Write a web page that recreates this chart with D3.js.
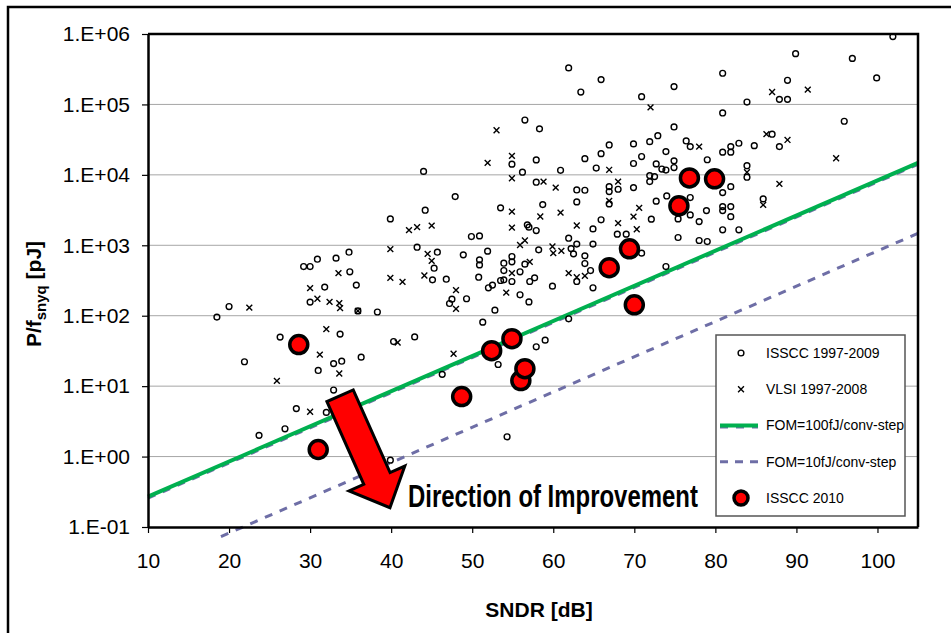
<!DOCTYPE html>
<html>
<head>
<meta charset="utf-8">
<script src="https://cdn.jsdelivr.net/npm/d3@7"></script>
<style>
body { margin: 0; background: #fff; }
svg { display: block; }
text { font-family: Arial, "Liberation Sans", sans-serif; }
</style>
</head>
<body>
<svg width="951" height="633"></svg>
<script>
// ISSCC 1997-2009 [SNDR dB, P/fsnyq pJ]
var isscc = [
  [61.9,3.3e5],[65.9,2.25e5],[63.4,1.5e5],[56.5,6.0e4],[58.3,4.5e4],[66.9,2.66e4],[65.9,2.0e4],[63.9,1.7e4],
  [54.9,1.42e4],[57.9,1.63e4],[65.3,1.25e4],[56.2,1.09e4],[60.9,1.16e4],[44.0,1.12e4],[57.9,7870],[62.9,6110],
  [63.9,6050],[66.9,6800],[66.9,5780],[68.0,6250],[66.9,3870],[62.9,4130],[47.9,4910],[44.2,3150],[53.5,3400],
  [58.7,3780],[39.9,2370],[65.9,2300],
  [101.9,9.2e5],[89.9,5.26e5],[96.9,4.5e5],[99.9,2.38e5],[80.9,2.77e5],[88.9,2.2e5],[74.9,1.79e5],[70.9,1.29e5],
  [87.9,1.18e5],[88.9,1.18e5],[83.9,1.08e5],[80.9,7.57e4],[95.9,5.77e4],[74.9,4.79e4],[87.0,3.78e4],[87.9,2.52e4],
  [84.8,2.6e4],[82.9,2.81e4],[81.9,2.52e4],[80.9,2.1e4],[81.9,2.1e4],[72.9,3.6e4],[71.9,2.96e4],[69.9,2.75e4],
  [76.4,3.03e4],[76.9,2.52e4],[73.9,2.14e4],[70.9,1.82e4],[69.9,1.45e4],[79.0,1.64e4],[74.9,1.58e4],[72.7,1.43e4],
  [73.4,1.21e4],[73.9,1.17e4],[74.9,1.27e4],[71.9,9760],[71.9,8020],[72.5,9440],[69.9,6590],[83.9,1.35e4],
  [83.9,9250],[80.9,5600],[81.9,6800],[74.0,5020],[72.7,4230],[76.9,4760],[80.9,3540],[81.9,3540],[80.9,3110],
  [78.9,3110],[85.9,4560],[72.1,2350],[81.9,2550],[76.9,2700],
  [69.0,1440],[75.4,2370],[78.0,2170],[80.9,1660],[82.9,1660],[75.4,1290],[78.0,1170],[79.0,1130],[73.9,499],[70.9,773],
  [56.8,1950],[57.0,1810],[57.9,1620],[64.9,1710],[67.9,1440],[49.9,1330],[50.9,1360],[61.9,1260],[62.9,1040],
  [64.9,1040],[58.2,861],[62.2,898],[62.5,755],[63.9,708],[63.9,550],[43.2,940],[45.7,798],[45.3,473],[48.9,731],
  [51.9,825],[50.9,621],[50.9,527],[53.9,557],[54.9,692],[54.9,582],[53.9,438],[54.9,306],[53.9,323],[53.5,316],
  [55.9,420],[57.1,306],[57.7,345],[56.5,540],[55.9,198],[57.0,157],[52.8,120],[51.3,81],[50.8,352],[52.0,249],
  [52.5,272],[59.9,263],[62.9,306],[64.6,438],[64.9,249],[47.5,172],[47.2,149],[49.3,174],[46.8,330],[45.1,323],
  [35.7,272],[34.9,420],[34.8,798],[33.2,657],[30.9,635],[29.2,499],[30.0,499],[31.8,255],[30.0,156],[35.9,117],
  [38.3,113],[33.7,54.8],[40.3,43],[42.9,50],[32.9,20.9],[33.9,22.6],[36.3,25.8],[31.0,16.7],[32.9,8.8],[46.3,14.7],
  [53.2,20.3],[61.9,90.4],[57.9,36.2],[59.0,45],[32.0,4.24],
  [18.5,95.5],[20.0,135],[26.3,49.7],[21.9,22.2],[28.3,4.8],
  [23.7,2.0],[26.9,2.48],[54.3,1.91],[39.9,0.89]
];

// VLSI 1997-2008
var vlsi = [
  [53.0,4.3e4],[54.9,1.86e4],[51.9,1.48e4],[66.9,1.18e4],[54.9,8960],[58.8,8020],[68.0,8020],[60.3,6590],
  [66.9,4270],[54.9,3000],[60.9,2910],[58.4,2560],
  [72.0,9.1e4],[87.0,1.5e5],[91.4,1.62e5],[86.3,3.78e4],[88.9,3.13e4],[78.0,2.52e4],[87.9,7430],[83.9,1.09e4],
  [94.9,1.72e4],[85.9,3740],[70.6,3400],[69.9,2550],[70.3,1690],
  [42.2,1640],[43.2,1810],[45.0,1900],[54.9,1780],[62.9,1910],[68.0,2060],[55.9,1010],[56.5,1170],[59.9,960],
  [61.0,834],[60.0,773],[39.9,881],[44.5,755],[45.0,601],[54.9,402],[57.1,582],[54.2,213],[61.9,402],[62.9,352],
  [63.9,368],[48.0,231],[48.0,125],[44.1,372],[41.4,303],[39.9,345],[33.5,402],[30.0,246],[30.9,174],[32.4,157],
  [33.6,151],[33.7,128],[35.9,117],[32.0,64.5],[40.8,41.7],[31.2,28],[33.6,15.1],[47.7,28.8],[30.0,4.33],
  [22.5,130],[25.9,11.9]
];

// ISSCC 2010
var isscc2010 = [
  [28.6,38.9],[31.0,1.26],[48.7,7.1],[52.4,31.9],[54.9,47.2],[56.0,12.0],[56.5,17.7],
  [66.9,480],[69.4,891],[70.0,143],[75.5,3630],[76.8,9060],[79.9,8770]
];

// FOM lines (end points)
var fom100 = [[10,0.27],[105,14800]];
var fom10 = [[19,0.073],[105,1480]];

var xTicks = [10,20,30,40,50,60,70,80,90,100];
var yTicks = [1e-1,1e0,1e1,1e2,1e3,1e4,1e5,1e6];
var legendLabels = ['ISSCC 1997-2009','VLSI 1997-2008','FOM=100fJ/conv-step','FOM=10fJ/conv-step','ISSCC 2010'];

var svg = d3.select('svg');
var green = '#00b050', purple = '#6e6ea6';

var xScale = d3.scaleLinear().domain([10,105]).range([148,918]);
var yScale = d3.scaleLog().domain([0.1,1e6]).range([527,34]);

// outer frame
svg.append('rect')
  .attr('x',8).attr('y',7).attr('width',960).attr('height',640)
  .attr('fill','none').attr('stroke','black').attr('stroke-width',2.5);

// grid
svg.append('g').selectAll('line')
  .data(yTicks.slice(1,-1))
  .enter().append('line')
  .attr('x1',148).attr('x2',918)
  .attr('y1',function(d){ return yScale(d); })
  .attr('y2',function(d){ return yScale(d); })
  .attr('stroke','#a6a6a6').attr('stroke-width',1);

// FOM lines
var line = d3.line()
  .x(function(d){ return xScale(d[0]); })
  .y(function(d){ return yScale(d[1]); });

svg.append('path').datum(fom10)
  .attr('d',line).attr('fill','none')
  .attr('stroke',purple).attr('stroke-width',3).attr('stroke-dasharray','8,8');

svg.append('path').datum(fom100)
  .attr('d',line).attr('fill','none').attr('transform','translate(0,1.5)')
  .attr('stroke',purple).attr('stroke-width',3).attr('stroke-dasharray','8,8');
svg.append('path').datum(fom100)
  .attr('d',line).attr('fill','none')
  .attr('stroke',green).attr('stroke-width',4);

// ISSCC circles
svg.append('g').selectAll('circle')
  .data(isscc)
  .enter().append('circle')
  .attr('cx',function(d){ return xScale(d[0]); })
  .attr('cy',function(d){ return yScale(d[1]); })
  .attr('r',2.9)
  .attr('fill','none').attr('stroke','black').attr('stroke-width',1.4);

// VLSI crosses
var cross = d3.symbol().type(d3.symbolX).size(24);
svg.append('g').selectAll('path')
  .data(vlsi)
  .enter().append('path')
  .attr('d',cross)
  .attr('transform',function(d){ return 'translate(' + xScale(d[0]) + ',' + yScale(d[1]) + ')'; })
  .attr('fill','none').attr('stroke','black').attr('stroke-width',1.4);

// ISSCC 2010
svg.append('g').selectAll('circle')
  .data(isscc2010)
  .enter().append('circle')
  .attr('cx',function(d){ return xScale(d[0]); })
  .attr('cy',function(d){ return yScale(d[1]); })
  .attr('r',9)
  .attr('fill','#ff0000').attr('stroke','black').attr('stroke-width',3.5);

// plot border top/right
svg.append('path')
  .attr('d','M148,34H918V527')
  .attr('fill','none').attr('stroke','black').attr('stroke-width',2.5);

// axes
var xAxis = d3.axisBottom(xScale).tickValues(xTicks).tickSize(6).tickSizeOuter(0).tickPadding(20);
var yAxis = d3.axisLeft(yScale).tickValues(yTicks).tickSize(6).tickSizeOuter(0).tickPadding(12)
  .tickFormat(function(d){
    var e = Math.round(Math.log10(d));
    return '1.E' + (e < 0 ? '-' : '+') + (Math.abs(e) < 10 ? '0' : '') + Math.abs(e);
  });

var gx = svg.append('g').attr('transform','translate(0,527)').call(xAxis);
var gy = svg.append('g').attr('transform','translate(148,0)').call(yAxis);
[gx,gy].forEach(function(g){
  g.select('.domain').attr('stroke','black').attr('stroke-width',2.5);
  g.selectAll('.tick line').attr('stroke','black').attr('stroke-width',1.2);
  g.selectAll('text').attr('font-size',21).attr('font-family','Arial, "Liberation Sans", sans-serif').attr('fill','black');
});

// axis titles
svg.append('text')
  .attr('x',539).attr('y',617)
  .attr('text-anchor','middle')
  .attr('font-size',21).attr('font-weight','bold')
  .text('SNDR [dB]');

var yt = svg.append('text')
  .attr('transform','translate(41,294) rotate(-90)')
  .attr('text-anchor','middle')
  .attr('font-size',21).attr('font-weight','bold');
yt.append('tspan').text('P/f');
yt.append('tspan').attr('font-size',15).attr('dy',5).text('snyq');
yt.append('tspan').attr('dy',-5).text(' [pJ]');

// arrow: direction of improvement
var a0 = [xScale(33.7), yScale(7.3)], a1 = [xScale(39.85), yScale(0.188)];
var dx = a1[0]-a0[0], dy = a1[1]-a0[1], len = Math.sqrt(dx*dx+dy*dy);
var ux = dx/len, uy = dy/len, px = -uy, py = ux;
var sw = 14.4, hw = 30.5, hl = 32;
var bx = a1[0]-ux*hl, by = a1[1]-uy*hl;
var arrowPts = [
  [a0[0]+px*sw, a0[1]+py*sw],
  [bx+px*sw, by+py*sw],
  [bx+px*hw, by+py*hw],
  a1,
  [bx-px*hw, by-py*hw],
  [bx-px*sw, by-py*sw],
  [a0[0]-px*sw, a0[1]-py*sw]
];
svg.append('polygon')
  .attr('points',arrowPts.map(function(p){ return p.join(','); }).join(' '))
  .attr('fill','#ff0000').attr('stroke','black').attr('stroke-width',3).attr('stroke-linejoin','miter');

// condensed bold label, squeezed to its width in the reference
var dirText = svg.append('text')
  .attr('x',0).attr('y',0)
  .attr('font-family','"Liberation Sans Narrow", "Arial Narrow", Arial, sans-serif')
  .attr('font-size',31).attr('font-weight','bold')
  .text('Direction of Improvement');
var natW = dirText.node().getComputedTextLength();
dirText.attr('transform','translate(408,507) scale(' + (290/natW) + ',1)');

// legend
var lg = svg.append('g');
lg.append('rect')
  .attr('x',716).attr('y',335).attr('width',189).attr('height',181)
  .attr('fill','white').attr('stroke','#555').attr('stroke-width',1.5);

var rowY = d3.scalePoint().domain(legendLabels).range([353,498]);
var entries = lg.selectAll('g.entry')
  .data(legendLabels)
  .enter().append('g')
  .attr('class','entry')
  .attr('transform',function(d){ return 'translate(0,' + rowY(d) + ')'; });

entries.append('text')
  .attr('x',766).attr('y',0).attr('dy','0.35em')
  .attr('font-size',14)
  .text(function(d){ return d; });

entries.each(function(d,i){
  var g = d3.select(this);
  if (i === 0) {
    g.append('circle').attr('cx',741).attr('cy',0).attr('r',2.9)
      .attr('fill','none').attr('stroke','black').attr('stroke-width',1.4);
  } else if (i === 1) {
    g.append('path').attr('d',cross).attr('transform','translate(741,0)')
      .attr('fill','none').attr('stroke','black').attr('stroke-width',1.4);
  } else if (i === 2) {
    g.append('line').attr('x1',720).attr('x2',758).attr('y1',1.5).attr('y2',1.5)
      .attr('stroke',purple).attr('stroke-width',3).attr('stroke-dasharray','8,8');
    g.append('line').attr('x1',720).attr('x2',758).attr('y1',0).attr('y2',0)
      .attr('stroke',green).attr('stroke-width',4);
  } else if (i === 3) {
    g.append('line').attr('x1',720).attr('x2',758).attr('y1',0).attr('y2',0)
      .attr('stroke',purple).attr('stroke-width',3).attr('stroke-dasharray','8,7');
  } else {
    g.append('circle').attr('cx',741).attr('cy',0).attr('r',7)
      .attr('fill','#ff0000').attr('stroke','black').attr('stroke-width',3.5);
  }
});
</script>
</body>
</html>
